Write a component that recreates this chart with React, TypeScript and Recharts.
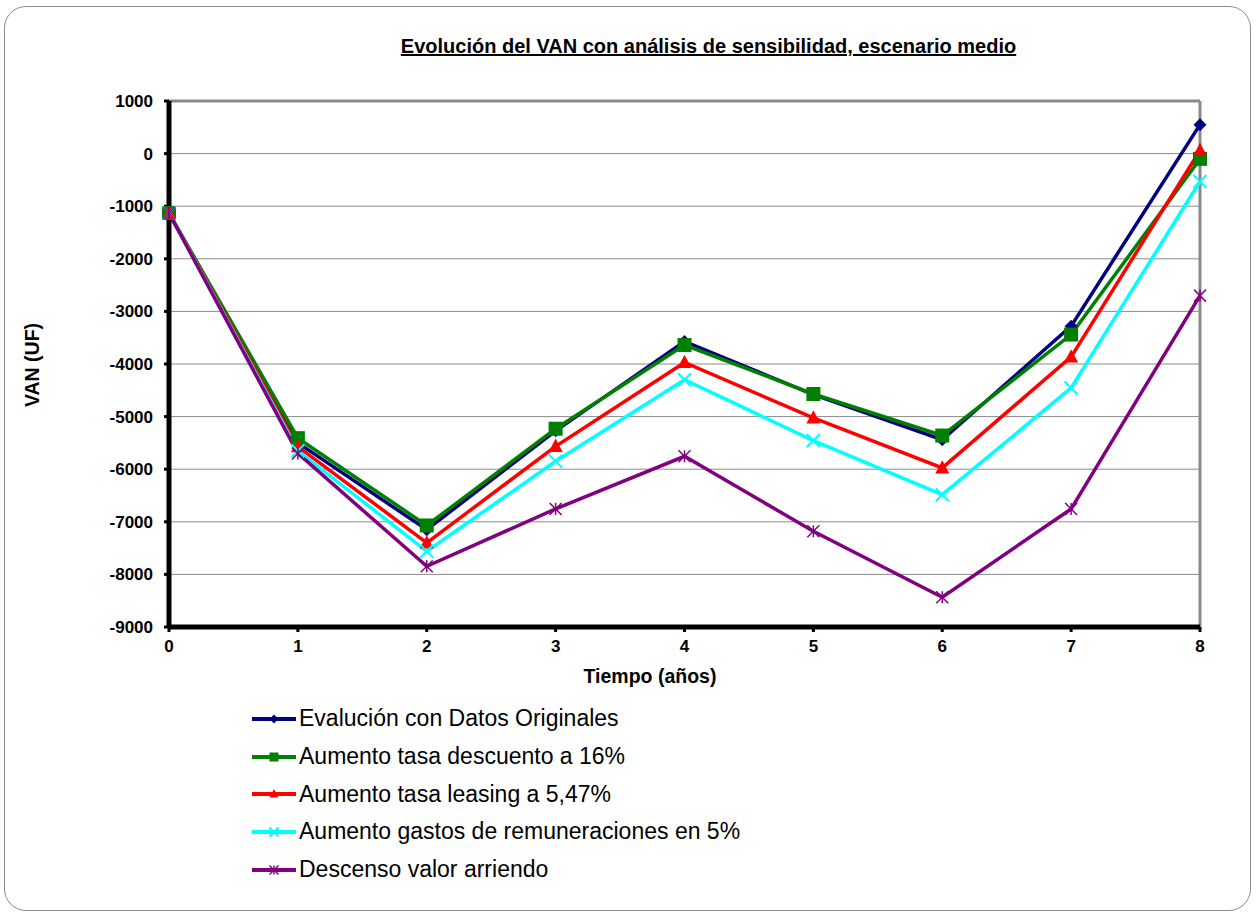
import { LineChart, Line, XAxis, YAxis, CartesianGrid, Legend, ReferenceLine, Label } from 'recharts';

const years = [0, 1, 2, 3, 4, 5, 6, 7, 8];
const yTicks = [1000, 0, -1000, -2000, -3000, -4000, -5000, -6000, -7000, -8000, -9000];

// VAN (UF) por año para cada escenario
const datosOriginales = [-1130, -5500, -7150, -5270, -3570, -4580, -5440, -3280, 550];
const tasaDescuento16 = [-1130, -5410, -7070, -5230, -3640, -4570, -5360, -3440, -100];
const tasaLeasing547 = [-1130, -5570, -7400, -5565, -3970, -5025, -5975, -3865, 60];
const remuneraciones5 = [-1130, -5650, -7560, -5850, -4300, -5455, -6485, -4455, -530];
const valorArriendo = [-1130, -5700, -7845, -6755, -5755, -7180, -8435, -6755, -2700];

const seriesNames = [
  'Evalución con Datos Originales',
  'Aumento tasa descuento a 16%',
  'Aumento tasa leasing a 5,47%',
  'Aumento gastos de remuneraciones en 5%',
  'Descenso valor arriendo',
];

type Shape = 'diamond' | 'square' | 'triangle' | 'cross' | 'star';

const series: { key: string; name: string; color: string; shape: Shape; values: number[] }[] = [
  { key: 'orig', name: seriesNames[0], color: '#000080', shape: 'diamond', values: datosOriginales },
  { key: 'desc', name: seriesNames[1], color: '#008000', shape: 'square', values: tasaDescuento16 },
  { key: 'leas', name: seriesNames[2], color: '#FF0000', shape: 'triangle', values: tasaLeasing547 },
  { key: 'remu', name: seriesNames[3], color: '#00FFFF', shape: 'cross', values: remuneraciones5 },
  { key: 'arri', name: seriesNames[4], color: '#800080', shape: 'star', values: valorArriendo },
];

const markerSize: Record<Shape, number> = { diamond: 6.5, square: 7, triangle: 7, cross: 6.5, star: 6 };

const data = years.map((year, i) => {
  const row: Record<string, number> = { year };
  series.forEach((s) => {
    row[s.key] = s.values[i];
  });
  return row;
});

const FONT = '"Liberation Sans", Arial, sans-serif';
const TICK_STYLE = { fill: '#000', fontSize: 17, fontWeight: 'bold', fontFamily: FONT };

function Marker({ cx, cy, shape, color, r = 6 }: { cx: number; cy: number; shape: Shape; color: string; r?: number }) {
  if (cx == null || cy == null) return null;
  switch (shape) {
    case 'diamond':
      return <polygon points={`${cx},${cy - r} ${cx + r},${cy} ${cx},${cy + r} ${cx - r},${cy}`} fill={color} />;
    case 'square':
      return <rect x={cx - r} y={cy - r} width={r * 2} height={r * 2} fill={color} />;
    case 'triangle':
      return <polygon points={`${cx},${cy - r * 1.1} ${cx + r},${cy + r * 0.8} ${cx - r},${cy + r * 0.8}`} fill={color} />;
    case 'cross':
      return (
        <g stroke={color} strokeWidth={2}>
          <line x1={cx - r} y1={cy - r} x2={cx + r} y2={cy + r} />
          <line x1={cx - r} y1={cy + r} x2={cx + r} y2={cy - r} />
        </g>
      );
    case 'star':
      return (
        <g stroke={color} strokeWidth={1.5}>
          <line x1={cx - r} y1={cy - r} x2={cx + r} y2={cy + r} />
          <line x1={cx - r} y1={cy + r} x2={cx + r} y2={cy - r} />
          <line x1={cx} y1={cy - r} x2={cx} y2={cy + r} />
        </g>
      );
  }
  return null;
}

function LegendRows() {
  return (
    <div style={{ fontFamily: FONT, fontSize: 23, color: '#000' }}>
      {series.map((s) => (
        <div key={s.key} style={{ display: 'flex', alignItems: 'center', height: 37.7 }}>
          <svg width={47} height={20} style={{ display: 'block' }}>
            <line x1={0} y1={10} x2={44} y2={10} stroke={s.color} strokeWidth={4} />
            <Marker cx={22} cy={10} shape={s.shape} color={s.color} r={4.5} />
          </svg>
          <span style={{ whiteSpace: 'nowrap' }}>{s.name}</span>
        </div>
      ))}
    </div>
  );
}

export default function App() {
  return (
    <div style={{ position: 'absolute', left: 0, top: 0, width: 1257, height: 914, background: '#fff' }}>
      <div
        style={{
          position: 'absolute',
          left: 4,
          top: 6,
          width: 1247,
          height: 905,
          border: '1px solid #8c8c8c',
          borderRadius: 22,
          boxSizing: 'border-box',
        }}
      />
      <div
        style={{
          position: 'absolute',
          left: 0,
          width: 1257,
          top: 35,
          textAlign: 'center',
          paddingLeft: 160,
          boxSizing: 'border-box',
          fontFamily: FONT,
          fontWeight: 'bold',
          fontSize: 20,
          textDecoration: 'underline',
          color: '#000',
        }}
      >
        Evolución del VAN con análisis de sensibilidad, escenario medio
      </div>
      <LineChart width={1257} height={914} data={data} margin={{ top: 101, right: 57, left: 0, bottom: 257 }}>
        <CartesianGrid horizontal vertical={false} stroke="#8a8a8a" strokeWidth={1} />
        <XAxis
          dataKey="year"
          type="number"
          domain={[0, 8]}
          ticks={years}
          height={30}
          axisLine={{ stroke: '#000', strokeWidth: 5 }}
          tickLine={{ stroke: '#000', strokeWidth: 3 }}
          tickSize={5}
          tickMargin={8}
          tick={TICK_STYLE}
        >
          <Label
            content={() => (
              <text x={650} y={683} textAnchor="middle" fontFamily={FONT} fontWeight="bold" fontSize={19.5} fill="#000">
                Tiempo (años)
              </text>
            )}
          />
        </XAxis>
        <YAxis
          type="number"
          domain={[-9000, 1000]}
          ticks={yTicks}
          width={169}
          interval={0}
          axisLine={{ stroke: '#000', strokeWidth: 5 }}
          tickLine={{ stroke: '#000', strokeWidth: 3 }}
          tickSize={5}
          tickMargin={11}
          tick={TICK_STYLE}
        >
          <Label
            content={() => (
              <text
                x={39}
                y={365}
                transform="rotate(-90 39 365)"
                textAnchor="middle"
                fontFamily={FONT}
                fontWeight="bold"
                fontSize={19.5}
                fill="#000"
              >
                VAN (UF)
              </text>
            )}
          />
        </YAxis>
        <ReferenceLine y={1000} stroke="#8a8a8a" strokeWidth={3} />
        <ReferenceLine x={8} stroke="#8a8a8a" strokeWidth={3} />
        <Legend
          layout="horizontal"
          verticalAlign="middle"
          align="center"
          wrapperStyle={{ left: 252, top: 700, width: 600 }}
          content={() => <LegendRows />}
        />
        {series.map((s) => (
          <Line
            key={s.key}
            dataKey={s.key}
            name={s.name}
            type="linear"
            stroke={s.color}
            strokeWidth={3.5}
            isAnimationActive={false}
            dot={(p: any) => (
              <Marker key={`${s.key}-${p.index}`} cx={p.cx} cy={p.cy} shape={s.shape} color={s.color} r={markerSize[s.shape]} />
            )}
            activeDot={false}
          />
        ))}
      </LineChart>
    </div>
  );
}
